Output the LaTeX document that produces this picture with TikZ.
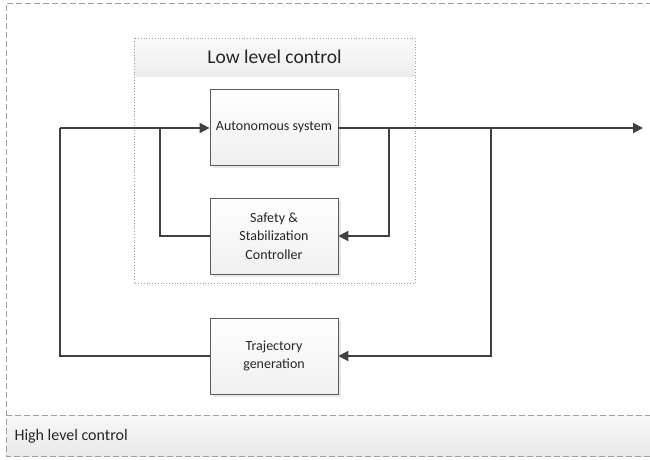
\documentclass[tikz,border=0pt]{standalone}
\usepackage{fontspec}
\setmainfont{Carlito}
\usetikzlibrary{arrows.meta}
\definecolor{linec}{HTML}{404040}
\definecolor{boxb}{HTML}{5A5A5A}
\definecolor{frame}{HTML}{A0A0A0}
\tikzset{
  blk/.style={draw=boxb, line width=0.8pt, top color=white, bottom color=gray!12, minimum width=128pt, minimum height=76pt, inner sep=2pt, align=center, font=\fontsize{14}{18.5}\selectfont, text=black!85},
  flow/.style={draw=linec, line width=2pt, line join=miter},
  tip/.style={-{Triangle[length=10pt,width=10pt]}},
}
\begin{document}
\begin{tikzpicture}[x=1pt,y=-1pt]
\useasboundingbox (0,0) rectangle (650,459);
% outer high-level frame
\fill[top color=gray!6, bottom color=gray!17] (6,415) rectangle (652,456);
\draw[frame, dashed, dash pattern=on 6pt off 3pt, line width=0.9pt] (652,3) -- (6,3) -- (6,456) -- (652,456);
\draw[frame, dashed, dash pattern=on 6pt off 3pt, line width=0.9pt] (6,415) -- (652,415);
\node[anchor=west, font=\fontsize{16}{19}\selectfont, text=black!85] (hl) at (11,436) {High level control};
% low level control box
\fill[top color=gray!4, bottom color=gray!14] (134,38) rectangle (415,76);
\draw[frame, dotted, line width=0.8pt] (134,38) rectangle (415,283);
\node[font=\fontsize{19.5}{23}\selectfont, text=black!85] (ll) at (274.5,57) {Low level control};
% shadows
\foreach \y in {89,198,318} \fill[gray!18] (213,\y+3) rectangle (341,\y+79);
% blocks
\node[blk] (auto) at (274,127) {Autonomous system};
\node[blk] (safe) at (274,236) {Safety \&\\Stabilization\\Controller};
\node[blk] (traj) at (274,356) {Trajectory\\generation};
% coordinates
\coordinate (out) at (643,128);
\coordinate (j1) at (389,128);
\coordinate (j2) at (491,128);
\coordinate (l1) at (160,128);
\coordinate (l2) at (60,128);
% connectors
\draw[flow, tip] (auto.east |- out) -- (out);
\draw[flow, tip] (j1) |- (safe.east);
\draw[flow, tip] (j2) |- (traj.east);
\draw[flow] (safe.west) -| (l1);
\draw[flow] (traj.west) -| (l2);
\draw[flow, tip] (l2) -- (auto.west |- l2);
\end{tikzpicture}
\end{document}
